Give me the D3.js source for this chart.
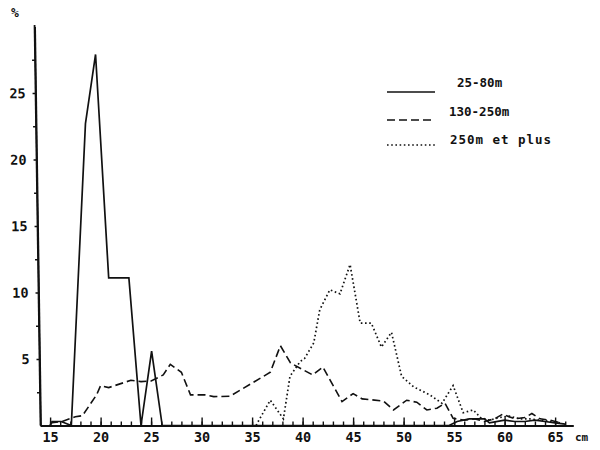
<!DOCTYPE html>
<html>
<head>
<meta charset="utf-8">
<script src="https://cdn.jsdelivr.net/npm/d3@7/dist/d3.min.js"></script>
<style>
  html, body { margin: 0; padding: 0; background: #fff; }
  svg { display: block; }
  text { font-family: "DejaVu Sans Mono", "Liberation Mono", monospace; font-weight: bold; fill: #111; }
</style>
</head>
<body>
<div id="chart"></div>
<script>
// ---- data (size in cm, share in %) ----
const seriesNames = ["25-80m", "130-250m", "250m et plus"];

const s1x = [15.0, 15.2, 16.1, 17.1, 18.5, 19.5, 20.8, 22.8, 24.0, 25.05, 26.1, 54.5, 55.3, 56.5, 58.0, 58.5, 60.0, 61.0, 62.0, 63.0, 64.0, 65.0, 66.0];
const s1y = [0,    0.3,  0.3,  0,    22.7, 27.9, 11.1, 11.1, 0,    5.6,   0,    0,    0.3,  0.5,  0.5,  0.2,  0.4,  0.3,  0.3,  0.4,  0.3,  0.2,  0.1];

const s2x = [15.0, 16.2, 17.5, 18.2, 19.6, 20.0, 20.8, 23.0, 24.0, 25.0, 26.2, 26.9, 28.0, 28.9, 30.3, 31.2, 32.8, 36.8, 37.8, 38.8, 41.0, 42.0, 43.9, 45.0, 45.9, 48.0, 49.0, 50.3, 51.3, 52.3, 53.3, 54.1, 54.9, 56.0, 57.0, 58.0, 59.0, 59.8, 61.0, 62.0, 62.7, 63.5, 64.5, 65.5];
const s2y = [0.2,  0.3,  0.66, 0.74, 2.3,  3.0,  2.85, 3.4,  3.3,  3.35, 3.8,  4.6,  4.0,  2.3,  2.3,  2.17, 2.2,  4.0,  6.0,  4.7,  3.8,  4.4,  1.8,  2.4,  2.0,  1.84, 1.17, 1.9,  1.75, 1.17, 1.3,  1.67, 0.54, 0.4,  0.5,  0.3,  0.5,  0.85, 0.5,  0.6,  0.9,  0.5,  0.4,  0.2];

const s3x = [35.4, 35.6, 36.8, 38.1, 38.75, 39.75, 40.2, 41.1, 41.7, 42.7, 43.7, 44.7, 45.7, 46.8, 47.8, 48.8, 49.8, 51.0, 52.6, 53.8, 54.9, 55.9, 56.9, 57.6, 58.5, 59.5, 60.5, 61.5, 62.5, 63.5, 64.5, 65.5];
const s3y = [0,    0.3,  1.9,  0.5,  3.7,   4.8,   5.05, 6.2,  8.7,  10.2, 9.9,  12.1, 7.7,  7.7,  5.9,  7.0,  3.7,  2.9,  2.3,  1.67, 3.0,  0.96, 1.17, 0.6,  0.4,  0.6,  0.7,  0.5,  0.5,  0.4,  0.3,  0.2];

const xMajorTicks = [15, 20, 25, 30, 35, 40, 45, 50, 55, 60, 65];
const xMinorTicks = d3.range(15, 67, 1);
const yMajorTicks = [5, 10, 15, 20, 25];
const yMinorTicks = [2.5, 7.5, 12.5, 17.5, 22.5, 27.5];
const yUnit = "%";
const xUnit = "cm";

// ---- layout ----
const W = 600, H = 450;
const svg = d3.select("#chart").append("svg").attr("width", W).attr("height", H);

const x = d3.scaleLinear().domain([14, 66.8]).range([40, 573.3]);
const y = d3.scaleLinear().domain([0, 30]).range([425.5, 26.5]);

const ink = "#111";

// x axis: minor ticks (inward, no labels)
const gxMinor = svg.append("g").attr("transform", `translate(0,${y(0)})`)
  .call(d3.axisBottom(x).tickValues(xMinorTicks).tickSizeInner(-4).tickSizeOuter(0).tickFormat(""));
gxMinor.select(".domain").attr("stroke", ink).attr("stroke-width", 1.8);
gxMinor.selectAll(".tick line").attr("stroke", ink).attr("stroke-width", 1.4);

// x axis: major ticks with labels
const gxMajor = svg.append("g").attr("transform", `translate(0,${y(0)})`)
  .call(d3.axisBottom(x).tickValues(xMajorTicks).tickSizeInner(-8).tickSizeOuter(0).tickPadding(7).tickFormat(d3.format("d")));
gxMajor.select(".domain").remove();
gxMajor.selectAll(".tick line").attr("stroke", ink).attr("stroke-width", 1.4);
gxMajor.selectAll(".tick text").attr("font-size", 13.5).attr("fill", ink)
  .style("font-family", "'DejaVu Sans Mono', monospace").style("font-weight", "bold");

svg.append("text").attr("x", 575).attr("y", 441).attr("font-size", 11).text(xUnit);

// y axis (slightly slanted like the original)
const gyWrap = svg.append("g").attr("transform", `rotate(-0.85, 40.5, ${y(0)})`);
const gy = gyWrap.append("g").attr("transform", "translate(40.5,0)")
  .call(d3.axisLeft(y).tickValues(yMajorTicks).tickSizeInner(3).tickSizeOuter(0).tickPadding(7).tickFormat(d3.format("d")));
gy.select(".domain").attr("stroke", ink).attr("stroke-width", 1.8);
gy.selectAll(".tick line").attr("stroke", ink).attr("stroke-width", 1.5);
gy.selectAll(".tick text").attr("font-size", 13.5).attr("fill", ink)
  .style("font-family", "'DejaVu Sans Mono', monospace").style("font-weight", "bold");
const gyMinor = gyWrap.append("g").attr("transform", "translate(40.5,0)")
  .call(d3.axisLeft(y).tickValues(yMinorTicks).tickSizeInner(3).tickSizeOuter(0).tickFormat(""));
gyMinor.select(".domain").remove();
gyMinor.selectAll(".tick line").attr("stroke", ink).attr("stroke-width", 1.5);
// extend axis to top
gyWrap.append("line").attr("x1", 40.5).attr("x2", 40.5).attr("y1", y(0)).attr("y2", 25)
  .attr("stroke", ink).attr("stroke-width", 1.8);

svg.append("text").attr("x", 11).attr("y", 17).attr("font-size", 13).text(yUnit);

// ---- series ----
const line = d3.line().x(d => x(d[0])).y(d => y(d[1]));
const styles = [
  { dash: null, w: 1.7 },
  { dash: "8,4", w: 1.6 },
  { dash: "1.6,2.6", w: 1.7 }
];
const series = [
  d3.zip(s1x, s1y),
  d3.zip(s2x, s2y),
  d3.zip(s3x, s3y)
];
series.forEach((pts, i) => {
  svg.append("path").datum(pts)
    .attr("fill", "none").attr("stroke", ink)
    .attr("stroke-width", styles[i].w)
    .attr("stroke-dasharray", styles[i].dash)
    .attr("stroke-linejoin", "miter")
    .attr("d", line);
});

// ---- legend ----
const legY = [92, 120, 145];
const legTextX = [457, 449, 450];
const legTextY = [87, 116, 144];
seriesNames.forEach((name, i) => {
  svg.append("line").attr("x1", 387).attr("x2", 435).attr("y1", legY[i]).attr("y2", legY[i])
    .attr("stroke", ink).attr("stroke-width", styles[i].w)
    .attr("stroke-dasharray", styles[i].dash);
  svg.append("text").attr("x", legTextX[i]).attr("y", legTextY[i])
    .attr("font-size", 12.5)
    .attr("textLength", i === 2 ? 101 : null)
    .text(name);
});
</script>
</body>
</html>
